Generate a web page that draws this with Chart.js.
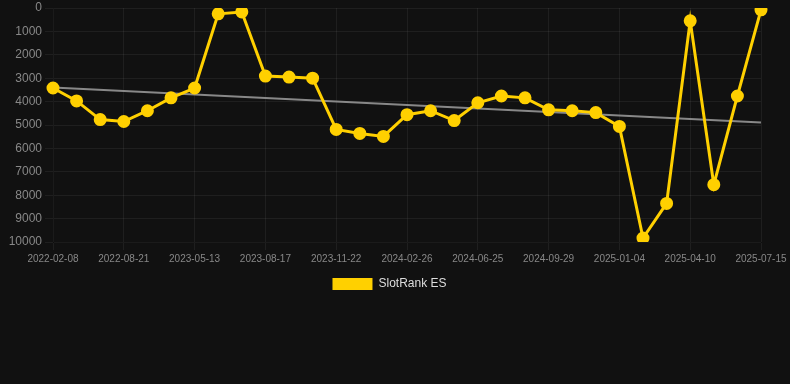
<!DOCTYPE html>
<html>
<head>
<meta charset="utf-8">
<script src="https://cdn.jsdelivr.net/npm/chart.js@4/dist/chart.umd.min.js"></script>
<style>
html,body{margin:0;padding:0;background:#111111;}
#wrap{width:790px;height:300px;position:relative;}
</style>
</head>
<body>
<div id="wrap"><canvas id="c"></canvas></div>
<script>
const dates = [
  "2022-02-08","2022-04-13","2022-06-17","2022-08-21","2022-11-19","2023-02-15",
  "2023-05-13","2023-06-14","2023-07-16","2023-08-17","2023-09-18","2023-10-20",
  "2023-11-22","2023-12-24","2024-01-25","2024-02-26","2024-04-05","2024-05-15",
  "2024-06-25","2024-07-27","2024-08-28","2024-09-29","2024-10-31","2024-12-02",
  "2025-01-04","2025-02-05","2025-03-09","2025-04-10","2025-05-12","2025-06-13",
  "2025-07-15"
];
const rankES = [
  3420, 3970, 4770, 4850, 4390, 3840,
  3420, 250, 170, 2910, 2950, 3000,
  5190, 5360, 5490, 4560, 4390, 4810,
  4050, 3760, 3840, 4350, 4390, 4470,
  5060, 9830, 8350, 550, 7550, 3760,
  80
];
const trendStart = 3400;
const trendEnd = 4890;
const trend = dates.map((d, i) => i === 0 ? trendStart : (i === dates.length - 1 ? trendEnd : null));
const yTicks = [0,1000,2000,3000,4000,5000,6000,7000,8000,9000,10000];

const FONT = 'Arial, "Liberation Sans", sans-serif';

new Chart(document.getElementById('c'), {
  type: 'line',
  data: {
    labels: dates,
    datasets: [
      {
        label: 'SlotRank ES',
        data: rankES,
        borderColor: '#FFD000',
        backgroundColor: '#FFD000',
        borderWidth: 3,
        pointRadius: 5,
        pointHoverRadius: 5,
        tension: 0,
        order: 1
      },
      {
        label: 'trend',
        data: trend,
        borderColor: 'rgba(150,150,150,0.9)',
        borderWidth: 2,
        pointRadius: 0,
        spanGaps: true,
        order: 2
      }
    ]
  },
  options: {
    responsive: true,
    maintainAspectRatio: false,
    animation: false,
    layout: { padding: { left: 18, right: 29, top: 0, bottom: 0 } },
    plugins: {
      legend: {
        position: 'bottom',
        labels: {
          color: '#dddddd',
          font: { family: FONT, size: 12 },
          boxWidth: 40,
          boxHeight: 12,
          generateLabels: (chart) => Chart.defaults.plugins.legend.labels.generateLabels(chart)
            .filter(it => it.text !== 'trend')
            .map(it => Object.assign(it, { lineWidth: 0 }))
        }
      },
      tooltip: { enabled: false }
    },
    scales: {
      x: {
        grid: { color: 'rgba(255,255,255,0.06)' },
        afterFit: (s) => { s.paddingRight = 0; },
        ticks: {
          color: '#888888',
          font: { family: FONT, size: 10 },
          autoSkip: true,
          maxTicksLimit: 11,
          maxRotation: 0
        }
      },
      y: {
        reverse: true,
        min: 0,
        max: 10000,
        grid: { color: 'rgba(255,255,255,0.06)' },
        afterBuildTicks: (axis) => { axis.ticks = yTicks.map(v => ({ value: v })); },
        afterFit: (s) => { s.width = 35; s.paddingTop = 6; s._computeLabelArea = () => null; },
        ticks: {
          color: '#888888',
          font: { family: FONT, size: 12 },
          callback: (v) => String(v)
        }
      }
    }
  }
});
</script>
</body>
</html>
